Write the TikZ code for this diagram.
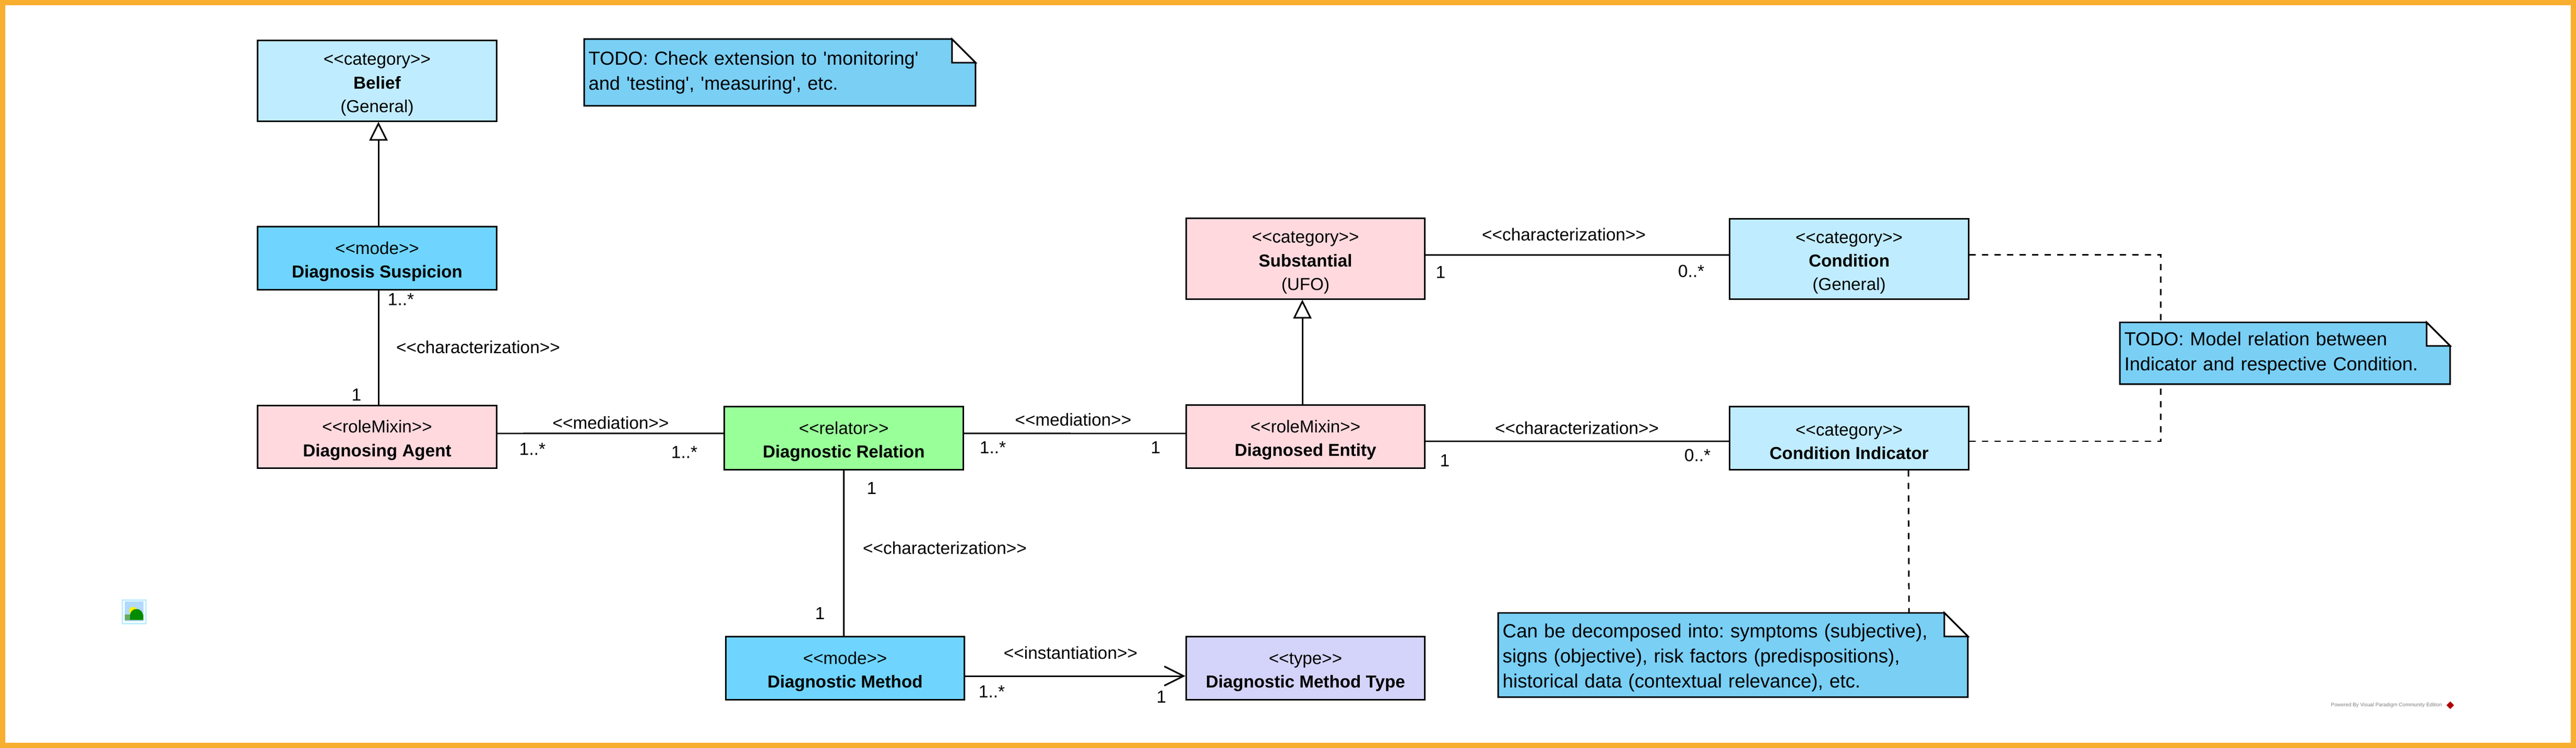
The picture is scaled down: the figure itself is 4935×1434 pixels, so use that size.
\documentclass[tikz,border=0pt]{standalone}
\usepackage{fontspec}
\usetikzlibrary{arrows.meta,shapes.geometric}
\newfontfamily\umlfont{Liberation Sans}
\newcommand{\topgap}{\rule{0pt}{10.5pt}}
\pgfdeclarelayer{background}
\pgfsetlayers{background,main}
\definecolor{frameorange}{HTML}{F8AE2E}
\definecolor{categoryblue}{HTML}{C0ECFF}
\definecolor{modeblue}{HTML}{6FD5FF}
\definecolor{rolepink}{HTML}{FFD9DE}
\definecolor{relatorgreen}{HTML}{99FF99}
\definecolor{typeviolet}{HTML}{D4D4FA}
\definecolor{noteblue}{HTML}{7ACFF5}
\tikzset{
    umlbox/.style={draw=black, line width=0.85pt, minimum width=4.57cm, minimum height=1.2cm, inner sep=0pt, align=center, font=\umlfont\fontsize{9.45}{12.9}\selectfont},
    notebox/.style={anchor=north west, inner xsep=0.08cm, inner ysep=0pt, align=left, font=\umlfont\frenchspacing\fontsize{10.28}{13.6}\selectfont},
    lbl/.style={inner sep=0pt, font=\umlfont\fontsize{9.5}{11}\selectfont},
    assoc/.style={draw=black, line width=0.85pt},
    notelink/.style={draw=black, line width=0.85pt, dash pattern=on 0.12cm off 0.12cm},
    generalize/.style={assoc, -{Triangle[open, fill=white, length=0.36cm, width=0.35cm]}}
}
\begin{document}
\begin{tikzpicture}[x=0.01cm, y=-0.01cm]
    \useasboundingbox (0,0) rectangle (4935,1434);
    \fill[frameorange, even odd rule] (0,0) rectangle (4935,1434) (10,10) rectangle (4925,1424);

    % classes
    \node[umlbox, fill=categoryblue, minimum height=1.54cm] (belief) at (722.5,155) {\topgap<<category>>\\\textbf{Belief}\\(General)};
    \node[umlbox, fill=modeblue] (suspicion) at (722.5,495) {\topgap<<mode>>\\\textbf{Diagnosis Suspicion}};
    \node[umlbox, fill=rolepink] (agent) at (722.5,837.5) {\topgap<<roleMixin>>\\\textbf{Diagnosing Agent}};
    \node[umlbox, fill=relatorgreen] (relation) at (1616.5,840) {\topgap<<relator>>\\\textbf{Diagnostic Relation}};
    \node[umlbox, fill=rolepink] (entity) at (2501,837) {\topgap<<roleMixin>>\\\textbf{Diagnosed Entity}};
    \node[umlbox, fill=rolepink, minimum height=1.54cm] (substantial) at (2501,496) {\topgap<<category>>\\\textbf{Substantial}\\(UFO)};
    \node[umlbox, fill=categoryblue, minimum height=1.53cm] (condition) at (3542.5,496.5) {\topgap<<category>>\\\textbf{Condition}\\(General)};
    \node[umlbox, fill=categoryblue] (indicator) at (3542.5,840) {\topgap<<category>>\\\textbf{Condition Indicator}};
    \node[umlbox, fill=modeblue] (method) at (1619,1281) {\topgap<<mode>>\\\textbf{Diagnostic Method}};
    \node[umlbox, fill=typeviolet] (methodtype) at (2501,1281) {\topgap<<type>>\\\textbf{Diagnostic Method Type}};

    % notes
    \node[notebox, text width=7.32cm, minimum height=1.265cm] (notecheck) at (1119,75) {TODO: Check extension to 'monitoring'\\and 'testing', 'measuring', etc.};
    \node[notebox, text width=6.15cm, minimum height=1.17cm] (notemodel) at (4061,618) {TODO: Model relation between\\Indicator and respective Condition.};
    \node[notebox, text width=8.82cm, minimum height=1.6cm] (notedecomp) at (2870,1175) {\fontsize{10.45}{13.6}\selectfont\rule{0pt}{10.7pt}Can be decomposed into: symptoms (subjective),\\signs (objective), risk factors (predispositions),\\historical data (contextual relevance), etc.};
    \begin{pgfonlayer}{background}
        \foreach \n in {notecheck,notemodel,notedecomp} {
            \draw[fill=noteblue, line width=0.85pt] (\n.north west) -- ([xshift=-0.45cm]\n.north east) -- ([yshift=-0.45cm]\n.north east) -- (\n.south east) -- (\n.south west) -- cycle;
            \draw[fill=white, line width=0.85pt] ([xshift=-0.45cm]\n.north east) -- ([xshift=-0.45cm, yshift=-0.45cm]\n.north east) -- ([yshift=-0.45cm]\n.north east) -- cycle;
        }
    \end{pgfonlayer}

    % connectors
    \draw[generalize] ([xshift=0.025cm]suspicion.north) -- ([xshift=0.025cm]belief.south);
    \draw[generalize] ([xshift=-0.06cm]entity.north) -- ([xshift=-0.06cm]substantial.south);
    \draw[assoc] ([xshift=0.025cm]suspicion.south) -- ([xshift=0.025cm]agent.north);
    \draw[assoc] ([yshift=0.065cm]agent.east) -- ([yshift=0.09cm]relation.west);
    \draw[assoc] ([yshift=0.09cm]relation.east) -- ([yshift=0.06cm]entity.west);
    \draw[assoc] ([yshift=-0.09cm]entity.east) -- ([yshift=-0.06cm]indicator.west);
    \draw[assoc] ([yshift=0.07cm]substantial.east) -- ([yshift=0.075cm]condition.west);
    \draw[assoc] (relation.south) -- ([xshift=-0.025cm]method.north);
    \draw[assoc, -{Straight Barb[length=0.37cm, width=0.37cm]}] ([yshift=-0.15cm]method.east) -- ([yshift=-0.15cm]methodtype.west);
    \draw[notelink] ([yshift=0.075cm]condition.east) -| ([xshift=-2.375cm]notemodel.north);
    \draw[notelink] ([yshift=-0.06cm]indicator.east) -| ([xshift=-2.375cm]notemodel.south);
    \draw[notelink] ([xshift=1.135cm]indicator.south) -- ([xshift=3.37cm]notedecomp.north);

    % connector labels
    \node[lbl] (charsuspicion) at (916,666) {<<characterization>>};
    \node[lbl] (medagent) at (1170,811) {<<mediation>>};
    \node[lbl] (medentity) at (2056,805) {<<mediation>>};
    \node[lbl] (charmethod) at (1810,1051) {<<characterization>>};
    \node[lbl] (instmethod) at (2051,1252) {<<instantiation>>};
    \node[lbl] (charcondition) at (2996,450) {<<characterization>>};
    \node[lbl] (charindicator) at (3021,821) {<<characterization>>};

    % multiplicities
    \node[lbl] (multsuspicion) at (768,574) {1..*};
    \node[lbl] (multagenttop) at (683,757) {1};
    \node[lbl] (multagent) at (1020,861) {1..*};
    \node[lbl] (multrelleft) at (1311,867) {1..*};
    \node[lbl] (multrelright) at (1902,858) {1..*};
    \node[lbl] (multentleft) at (2214,858) {1};
    \node[lbl] (multentright) at (2768,883) {1};
    \node[lbl] (multrelbelow) at (1670,936) {1};
    \node[lbl] (multmethodtop) at (1571,1176) {1};
    \node[lbl] (multmethod) at (1900,1326) {1..*};
    \node[lbl] (multtype) at (2225,1336) {1};
    \node[lbl] (multsubst) at (2760,522) {1};
    \node[lbl] (multcond) at (3240,520) {0..*};
    \node[lbl] (multind) at (3252,873) {0..*};

    % image icon
    \fill[blue!25!cyan!25] (233,1149) rectangle (281,1197);
    \fill[white] (236,1152) rectangle (278,1194);
    \fill[blue!50!cyan!30] (239,1153) rectangle (275,1191);
    \fill[yellow] (255,1171) circle (7.5);
    \fill[green!45!black!60] (239,1178) rectangle (275,1189);
    \fill[green!55!black] (249,1188) -- (249,1180) arc (180:360:12.5) -- (274,1188) -- cycle;

    % watermark
    \node[inner sep=0pt, text=gray, font=\umlfont\fontsize{2.8}{3}\selectfont] (poweredby) at (4572,1352) {Powered By Visual Paradigm Community Edition};
    \node[diamond, fill=red!70!black, inner sep=0pt, minimum size=0.15cm] (vplogo) at (4694,1352) {};
\end{tikzpicture}
\end{document}
